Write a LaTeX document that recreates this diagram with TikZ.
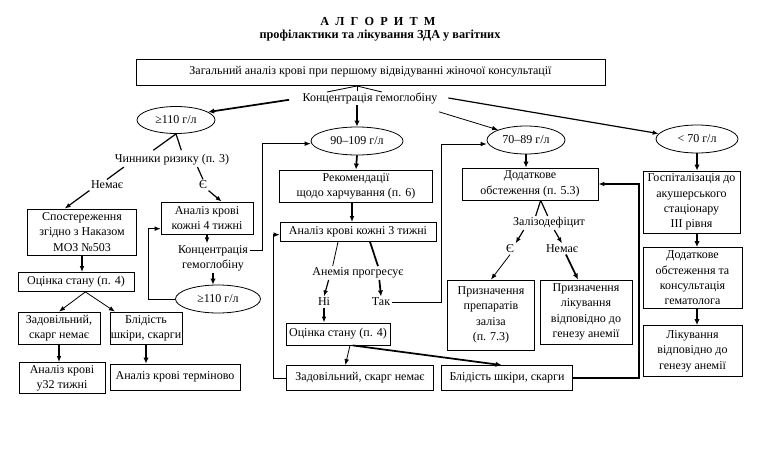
\documentclass[tikz,border=0pt]{standalone}
\usepackage{fontspec}
\setmainfont{Liberation Serif}
\usetikzlibrary{shapes.geometric,arrows.meta}

\begin{document}
\begin{tikzpicture}[x=0.75pt,y=-0.75pt,font=\fontsize{9}{11.5}\selectfont,
  bx/.style 2 args={draw,line width=0.6pt,inner sep=0pt,align=center,minimum width=#1*0.75pt,minimum height=#2*0.75pt},
  ov/.style 2 args={draw,line width=0.6pt,ellipse,inner sep=0pt,minimum width=#1*0.75pt,minimum height=#2*0.75pt},
  lbl/.style={inner sep=1pt,align=center},
  ttlfont/.style={font=\fontsize{9.2}{11}\selectfont\bfseries},
  ln/.style={line width=0.6pt},
  ml/.style={line width=0.9pt},
  tl/.style={line width=1.3pt},
  arr/.style={ln,-{Latex[length=4.5pt,width=3.5pt]}},
  marr/.style={ml,-{Latex[length=4.5pt,width=3.5pt]}},
  tarr/.style={tl,-{Latex[length=4.5pt,width=4pt]}}]

\useasboundingbox (0,0) rectangle (759,460);

\node[ttlfont] (ttl) at (378,21) {А\enspace Л\enspace Г\enspace О\enspace Р\enspace И\enspace Т\enspace М};
\node[ttlfont] (sub) at (380,36) {профілактики та лікування ЗДА у вагітних};

\node[bx={469}{26}] (zag) at (370.5,72) {Загальний аналіз крові при першому відвідуванні жіночої консультації};
\node[lbl] (konc) at (370,98) {Концентрація гемоглобіну};

\node[ov={78}{27}] (e1) at (176,120) {≥110 г/л};
\node[ov={92}{28}] (e2) at (357,141) {90–109 г/л};
\node[ov={78}{28}] (e3) at (526,140) {70–89 г/л};
\node[ov={82}{28}] (e4) at (697,139) {< 70 г/л};

\node[lbl] (chin) at (172,160) {Чинники ризику (п. 3)};
\node[lbl] (nem1) at (107,185) {Немає};
\node[lbl] (ye1) at (203,185) {Є};
\node[bx={109}{46}] (spost) at (82,232) {Спостереження\\згідно з Наказом\\МОЗ №503};
\node[bx={92}{32}] (an4) at (207,218) {Аналіз крові\\кожні 4 тижні};
\node[lbl] (konc2) at (213,258) {Концентрація\\гемоглобіну};
\node[ov={85}{28}] (e5) at (218,299) {≥110 г/л};
\node[bx={116}{19}] (ocin1) at (76,282) {Оцінка стану (п. 4)};
\node[bx={82}{32}] (zad1) at (59,328) {Задовільний,\\скарг немає};
\node[bx={72}{32}] (blid1) at (146,328) {Блідість\\шкіри, скарги};
\node[bx={86}{31}] (an32) at (62,378) {Аналіз крові\\у32 тижні};
\node[bx={130}{26}] (anterm) at (175,377) {Аналіз крові терміново};

\node[bx={153}{32}] (rekom) at (356,186) {Рекомендації\\щодо харчування (п. 6)};
\node[bx={156}{19}] (an3) at (358,232) {Аналіз крові кожні 3 тижні};
\node[lbl] (anem) at (358,273) {Анемія прогресує};
\node[lbl] (ni) at (324,302) {Ні};
\node[lbl] (tak) at (381,302) {Так};
\node[bx={104}{22}] (ocin2) at (338,334) {Оцінка стану (п. 4)};
\node[bx={147}{25}] (zad2) at (360,378) {Задовільний, скарг немає};
\node[bx={131}{25}] (blid2) at (507,378) {Блідість шкіри, скарги};

\node[bx={136}{32}] (dod) at (530,184) {Додаткове\\обстеження (п. 5.3)};
\node[lbl] (zaliz) at (549,223) {Залізодефіцит};
\node[lbl] (ye2) at (510,249) {Є};
\node[lbl] (nem2) at (562,249) {Немає};
\node[bx={87}{70}] (prep) at (491,315) {Призначення\\препаратів\\заліза\\(п. 7.3)};
\node[bx={92}{64}] (likuv) at (586,312) {Призначення\\лікування\\відповідно до\\генезу анемії};

\node[bx={97}{62}] (hosp) at (691.5,202) {Госпіталізація до\\акушерського\\стаціонару\\III рівня};
\node[bx={99}{61}] (dodg) at (692.5,278) {Додаткове\\обстеження та\\консультація\\гематолога};
\node[bx={99}{51}] (likg) at (692.5,351) {Лікування\\відповідно до\\генезу анемії};

\coordinate (ka) at (357,86);
\coordinate (kl) at (327,92);
\coordinate (km) at (357,91);
\coordinate (kr) at (382,92);
\draw[ln] (kl) -- (ka) -- (kr);
\draw[ln] (ka) -- (km);

\draw[tarr,shorten <=9pt] (konc.west) -- (e1.14);
\draw[tarr] (konc.south -| e2.north) -- (e2.north);
\draw[arr] ([yshift=-5pt]konc.south east) -- (e3.160);
\draw[marr] ([xshift=7pt]konc.east) -- (e4.172);

\draw[ml] (e1.south) -- ([xshift=-14pt,yshift=2pt]chin.north);
\draw[ml] (e1.south) -- ([xshift=7pt,yshift=2pt]chin.north);
\draw[ml] ([xshift=8pt]chin.south west) -- (nem1.north);
\draw[ml] ([xshift=-25pt]chin.south east) -- (ye1.north);
\draw[marr] (nem1.south west) -- ([xshift=-13pt]spost.north);
\draw[marr] (ye1.south east) -- ([xshift=11pt]an4.north);

\foreach \a/\b in {spost/ocin1,zad1/an32,an4/konc2,ni/ocin2} {\draw[marr] (\a.south) -- (\a.south |- \b.north);}
\foreach \a/\b in {blid1/anterm,konc2/e5,e3/dod} {\draw[tarr] (\a.south) -- (\a.south |- \b.north);}
\foreach \a/\b in {e4/hosp,hosp/dodg,dodg/likg} {\draw[tarr] (\a.south -| e4.south) -- (\b.north -| e4.south);}
\draw[tarr] (e2.south) -- (rekom.north);
\draw[marr] ([xshift=-3pt]rekom.south) -- ([xshift=-3pt]rekom.south |- an3.north);

\draw[arr] ([xshift=7pt]ocin1.south) -- (zad1.north);
\draw[arr] ([xshift=7pt]ocin1.south) -- ([xshift=4pt]blid1.north west);

\draw[arr] (e5.west) -- ++(-27,0) |- ([yshift=-8pt]an4.west);
\draw[arr] ([yshift=6pt]konc2.east) -- ++(13,0) |- ([yshift=-2pt]e2.west);

\draw[ln] ([xshift=-15pt]an3.south) -- ([xshift=-19pt]anem.north);
\draw[tl] ([xshift=9pt]an3.south) -- ([xshift=15pt]anem.north);
\draw[marr] ([xshift=-22pt]anem.south) -- (ni.north);
\draw[tarr] ([xshift=16pt]anem.south) -- (tak.north);
\draw[arr] (tak.east) -- ++(50,0) |- ([yshift=-3pt]e3.west);

\draw[arr] ([xshift=9pt]ocin2.south) -- ([xshift=-11pt]zad2.north);
\draw[tarr] ([xshift=11pt]ocin2.south) -- ([xshift=-4pt]blid2.north);
\draw[arr] (zad2.west) -- ++(-13,0) |- ([yshift=-2pt]an3.west);
\draw[marr] (blid2.east) -- ++(66,0) |- (dod.east);

\draw[ml] ([xshift=8pt]dod.south) -- ([xshift=-10pt]zaliz.north);
\draw[ml] ([xshift=8pt]dod.south) -- ([xshift=-1pt]zaliz.north);
\draw[marr] ([xshift=-19pt]zaliz.south) -- (ye2.north east);
\draw[marr] ([xshift=4pt]zaliz.south) -- (nem2.north);
\draw[arr] (ye2.south) -- (prep.north);
\draw[tarr] ([xshift=3pt]nem2.south) -- ([xshift=-6pt]likuv.north);

\end{tikzpicture}
\end{document}
